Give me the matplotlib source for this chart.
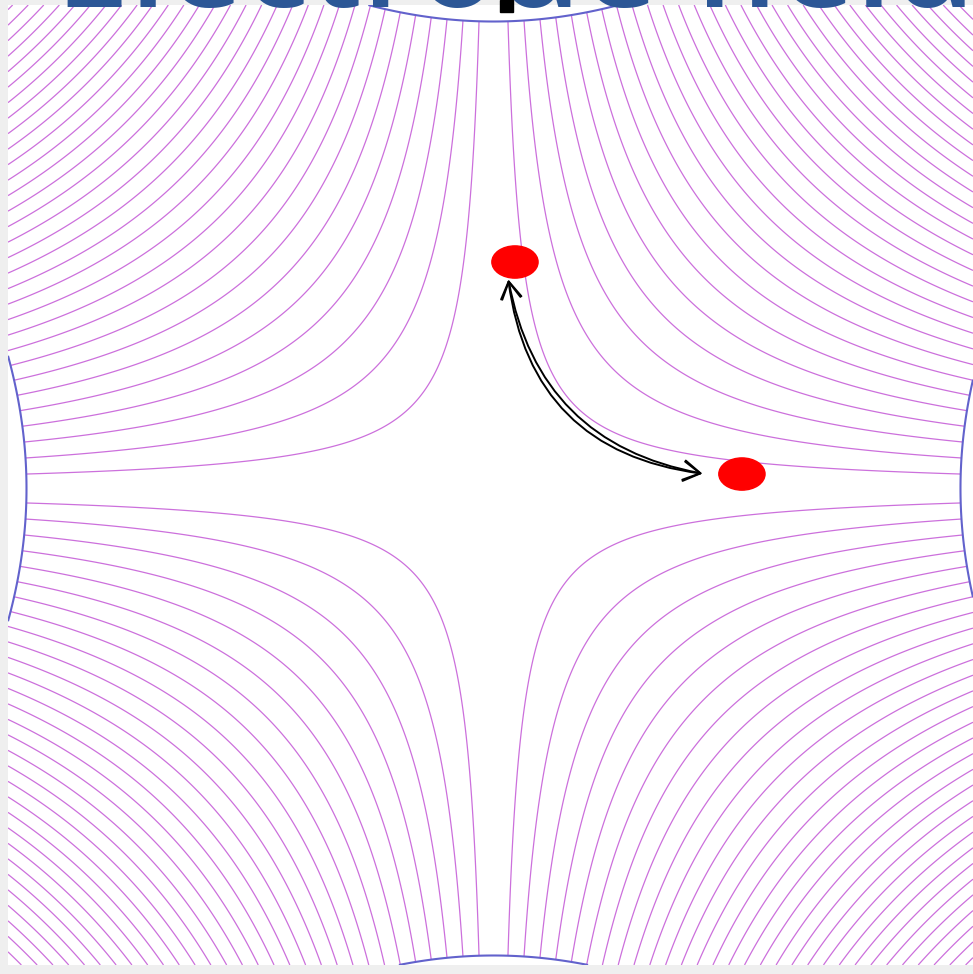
import numpy as np
import matplotlib
matplotlib.use("Agg")
import matplotlib.pyplot as plt
from matplotlib.patches import Ellipse, FancyArrowPatch, Rectangle

# Quadrupole: potential ~ x^2 - y^2, field lines are x*y = const
r0 = 1.0                      # electrode half-gap (hyperbolic electrodes x^2 - y^2 = +-r0^2)
first_line = 0.031            # x*y value of innermost field line
line_step = 0.0345            # spacing between field lines (x*y)
n_lines = 31                  # field lines per quadrant

# two ions and the exchange arrow (data units)
ion_x = [0.046, 0.532]
ion_y = [0.485, 0.031]
arrow_start = (0.031, 0.453)
arrow_end = (0.453, 0.031)

# only the bottom of the slide title is visible in the crop
title_text = "Electrode field lines"

line_color = "#cc70dc"
electrode_color = "#6262cc"
title_color = "#2c5796"

fig = plt.figure(figsize=(9.73, 9.74), dpi=100, facecolor="#efefef")
ax = fig.add_axes([8 / 973, 9 / 974, 965 / 973, 960 / 974])
ax.set_facecolor("white")

xlim = (-1.0396, 1.0268)
ylim = (-1.0203, 1.0353)

x = np.linspace(xlim[0], xlim[1], 1800)
y = np.linspace(ylim[0], ylim[1], 1800)
X, Y = np.meshgrid(x, y)
P = X**2 - Y**2
S = np.ma.masked_where(np.abs(P) > r0**2, X * Y)

pos = first_line + line_step * np.arange(n_lines)
levels = np.concatenate([-pos[::-1], pos])
ax.contour(X, Y, S, levels=levels, colors=line_color, linewidths=0.9,
           linestyles="solid")

# electrode surfaces
ax.contour(X, Y, P, levels=[-r0**2, r0**2], colors=electrode_color,
           linewidths=1.5, linestyles="solid")

# ions
for ix, iy in zip(ion_x, ion_y):
    ax.add_patch(Ellipse((ix, iy), 0.099, 0.069, color="red", zorder=5))

# curved double-headed arrow (drawn twice for the doubled stroke)
for rad in (0.35, 0.39):
    ax.add_patch(FancyArrowPatch(arrow_start, arrow_end,
                                 connectionstyle=f"arc3,rad={rad}",
                                 arrowstyle="<->,head_length=12,head_width=7",
                                 color="black", lw=1.4, zorder=6))

ax.set_xlim(*xlim)
ax.set_ylim(*ylim)
ax.set_aspect("equal")
ax.set_xticks([])
ax.set_yticks([])
for sp in ax.spines.values():
    sp.set_visible(False)

# title, mostly cut off at the top of the picture
fig.text(55 / 973, 1 - 7 / 974, title_text, fontsize=96, color=title_color,
         ha="left", va="baseline", family="Open Sans", fontweight="semibold",
         zorder=10)
fig.patches.append(Rectangle((500 / 973, 1 - 12 / 974), 13 / 973, 12 / 974,
                             transform=fig.transFigure, color="black",
                             zorder=11))

fig.savefig("out.png", dpi=100, facecolor=fig.get_facecolor())
